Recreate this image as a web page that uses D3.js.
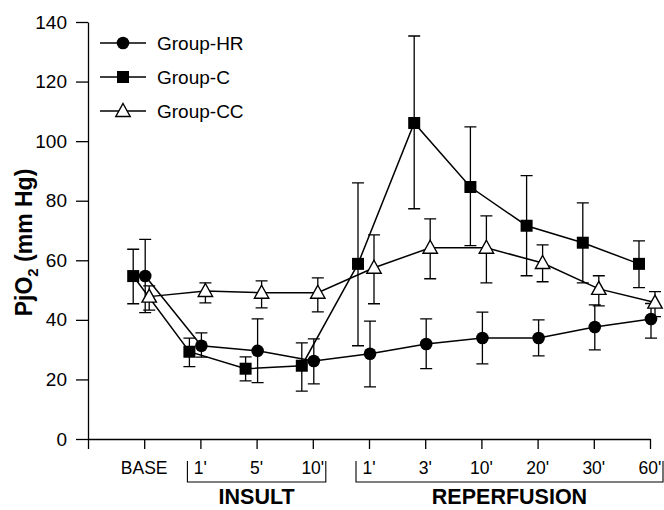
<!DOCTYPE html>
<html>
<head>
<meta charset="utf-8">
<script src="https://cdn.jsdelivr.net/npm/d3@7"></script>
<style>
  body { margin: 0; background: #fff; }
  text { font-family: "Liberation Sans", Arial, sans-serif; fill: #000; }
</style>
</head>
<body>
<div id="chart"></div>
<script>
// time points (x categories)
const categories = ["BASE", "1'", "5'", "10'", "1'", "3'", "10'", "20'", "30'", "60'"];
const yTicks = [0, 20, 40, 60, 80, 100, 120, 140];

// phase groups: label + index range into categories
const phases = [
  { label: "INSULT", from: 1, to: 3 },
  { label: "REPERFUSION", from: 4, to: 9 },
];

// means and error bar ends
const hrMean = [54.7, 31.3, 29.6, 26.2, 28.6, 31.9, 33.9, 33.9, 37.6, 40.3];
const hrHigh = [67.0, 35.6, 40.3, 33.6, 39.6, 40.3, 42.6, 40.0, 45.0, 45.5];
const hrLow = [42.4, 27.5, 18.9, 18.5, 17.5, 23.6, 25.2, 27.9, 29.9, 33.9];

const cMean = [54.7, 29.3, 23.6, 24.6, 58.8, 106.1, 84.6, 71.6, 65.9, 58.8];
const cHigh = [63.7, 33.9, 27.6, 32.3, 86.0, 135.3, 104.8, 88.4, 79.3, 66.5];
const cLow = [45.4, 24.3, 19.5, 16.1, 31.3, 77.3, 64.9, 54.8, 52.4, 50.8];

const ccMean = [47.8, 49.7, 49.1, 49.1, 57.5, 64.2, 64.2, 59.1, 50.4, 45.8];
const ccHigh = [51.4, 52.4, 53.1, 54.1, 68.5, 73.9, 74.9, 65.2, 54.8, 49.5];
const ccLow = [43.3, 45.7, 44.0, 42.7, 45.4, 53.8, 52.4, 52.8, 44.7, 41.1];

// draw order: C first, then HR, then CC on top
const series = [
  { name: "Group-C", mean: cMean, high: cHigh, low: cLow, shape: "square", dx: -11 },
  { name: "Group-HR", mean: hrMean, high: hrHigh, low: hrLow, shape: "circle", dx: 1 },
  { name: "Group-CC", mean: ccMean, high: ccHigh, low: ccLow, shape: "triangle", dx: 5 },
];
const legendOrder = ["Group-HR", "Group-C", "Group-CC"];

const width = 664, height = 510;
const margin = { top: 22, right: 14, bottom: 71, left: 88 };

const svg = d3.select("#chart").append("svg")
  .attr("width", width)
  .attr("height", height);

svg.append("rect").attr("width", width).attr("height", height).attr("fill", "#fff");

// x: tick 0 sits on the y axis, categories at 1..10
const x = d3.scaleLinear()
  .domain([0, categories.length])
  .range([margin.left, width - margin.right]);

const y = d3.scaleLinear()
  .domain([0, 140])
  .range([height - margin.bottom, margin.top]);

// y axis
const yAxis = svg.append("g")
  .attr("transform", `translate(${margin.left},0)`)
  .call(d3.axisLeft(y).tickValues(yTicks).tickSize(12).tickPadding(9).tickSizeOuter(0));
yAxis.select(".domain").attr("stroke-width", 1.3);
yAxis.selectAll(".tick line").attr("stroke-width", 1.3);
yAxis.selectAll("text").style("font-size", "19px").attr("fill", "#000");

// x axis
const xAxis = svg.append("g")
  .attr("transform", `translate(0,${y(0)})`)
  .call(d3.axisBottom(x).tickValues(d3.range(0, categories.length + 1))
    .tickSize(10).tickSizeOuter(0).tickFormat(() => ""));
xAxis.select(".domain").attr("stroke-width", 1.3);
xAxis.selectAll(".tick line").attr("stroke-width", 1.3);

// x category labels
svg.append("g").selectAll("text")
  .data(categories)
  .join("text")
  .attr("x", (d, i) => x(i + 1))
  .attr("y", y(0) + 35)
  .attr("text-anchor", "middle")
  .style("font-size", "17.5px")
  .text(d => d);

// phase brackets
const bracketTop = y(0) + 22, bracketBottom = y(0) + 43;
phases.forEach(p => {
  const x0 = x(p.from + 1) - 13, x1 = x(p.to + 1) + 13;
  svg.append("path")
    .attr("d", `M${x0},${bracketTop}V${bracketBottom}H${x1}V${bracketTop}`)
    .attr("fill", "none")
    .attr("stroke", "#000")
    .attr("stroke-width", 1.1);
  svg.append("text")
    .attr("x", (x0 + x1) / 2)
    .attr("y", y(0) + 65)
    .attr("text-anchor", "middle")
    .style("font-size", "21.5px")
    .style("font-weight", "bold")
    .text(p.label);
});

// y axis title
const yTitle = svg.append("text")
  .attr("transform", `translate(32,${(y(0) + y(140)) / 2 + 12}) rotate(-90)`)
  .attr("text-anchor", "middle")
  .style("font-size", "23px")
  .style("font-weight", "bold");
yTitle.append("tspan").text("PjO");
yTitle.append("tspan").attr("dy", 6).style("font-size", "15px").text("2");
yTitle.append("tspan").attr("dy", -6).text(" (mm Hg)");

// marker drawing
function drawMarker(g, shape) {
  if (shape === "circle") {
    g.append("circle").attr("r", 6.3).attr("fill", "#000");
  } else if (shape === "square") {
    g.append("rect").attr("x", -6).attr("y", -6).attr("width", 12).attr("height", 12).attr("fill", "#000");
  } else {
    g.append("path")
      .attr("d", "M0,-7.5L7.2,5.5L-7.2,5.5Z")
      .attr("fill", "#fff")
      .attr("stroke", "#000")
      .attr("stroke-width", 1.4);
  }
}

const line = d3.line();
const capW = 6;

series.forEach(s => {
  const g = svg.append("g");
  const px = i => x(i + 1) + s.dx;

  // error bars
  s.mean.forEach((m, i) => {
    const cx = px(i);
    g.append("path")
      .attr("d", `M${cx},${y(s.low[i])}V${y(s.high[i])}` +
        `M${cx - capW},${y(s.low[i])}H${cx + capW}` +
        `M${cx - capW},${y(s.high[i])}H${cx + capW}`)
      .attr("fill", "none")
      .attr("stroke", "#000")
      .attr("stroke-width", 1.3);
  });

  g.append("path")
    .attr("d", line(s.mean.map((m, i) => [px(i), y(m)])))
    .attr("fill", "none")
    .attr("stroke", "#000")
    .attr("stroke-width", 1.5);

  s.mean.forEach((m, i) => {
    const mg = g.append("g").attr("transform", `translate(${px(i)},${y(m)})`);
    drawMarker(mg, s.shape);
  });
});

// legend
const legend = svg.append("g");
legendOrder.forEach((name, i) => {
  const s = series.find(d => d.name === name);
  const ly = 43 + i * 34;
  legend.append("line")
    .attr("x1", 100).attr("x2", 146)
    .attr("y1", ly).attr("y2", ly)
    .attr("stroke", "#000").attr("stroke-width", 1.3);
  drawMarker(legend.append("g").attr("transform", `translate(123,${ly})`), s.shape);
  legend.append("text")
    .attr("x", 157).attr("y", ly + 7)
    .style("font-size", "19px")
    .text(name);
});
</script>
</body>
</html>
